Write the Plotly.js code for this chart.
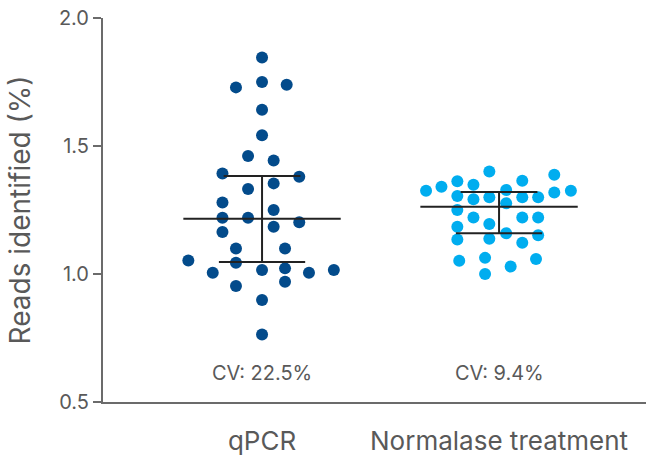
<!DOCTYPE html>
<html>
<head>
<meta charset="utf-8">
<script src="https://cdn.plot.ly/plotly-3.0.1.min.js"></script>
<style>html,body{margin:0;padding:0;background:#fff;}#chart{width:646px;height:458px;}</style>
</head>
<body>
<div id="chart"></div>
<script>
const categories = ["qPCR", "Normalase treatment"];
const cvLabels = ["CV: 22.5%", "CV: 9.4%"];

const qpcrValues = [1.846, 1.729, 1.750, 1.739, 1.642, 1.542, 1.461, 1.443, 1.393, 1.380, 1.332, 1.354,
  1.279, 1.220, 1.220, 1.250, 1.185, 1.202, 1.164, 1.100, 1.100, 1.053, 1.044, 1.005,
  1.016, 1.022, 1.005, 1.016, 0.953, 0.970, 0.898, 0.764];
const qpcrJitter = [0, -0.110, 0, 0.104, 0, 0, -0.059, 0.049, -0.167, 0.157, -0.059, 0.049,
  -0.167, -0.167, -0.059, 0.049, 0.049, 0.157, -0.167, -0.110, 0.097, -0.311, -0.110, -0.208,
  0, 0.097, 0.198, 0.303, -0.110, 0.097, 0, 0];

const normValues = [1.325, 1.341, 1.362, 1.349, 1.400, 1.328, 1.364, 1.388, 1.325,
  1.305, 1.292, 1.300, 1.276, 1.300, 1.300, 1.318,
  1.250, 1.221, 1.195, 1.221, 1.221,
  1.185, 1.159, 1.151, 1.135, 1.138, 1.122,
  1.052, 1.063, 1.059, 1.029, 1.000];
const normJitter = [-0.308, -0.243, -0.176, -0.108, -0.041, 0.030, 0.098, 0.233, 0.303,
  -0.176, -0.108, -0.041, 0.030, 0.098, 0.165, 0.233,
  -0.176, -0.108, -0.041, 0.098, 0.165,
  -0.176, 0.030, 0.165, -0.176, -0.041, 0.098,
  -0.168, -0.059, 0.156, 0.049, -0.059];

const groupMeans = [1.216, 1.263];
const groupUpper = [1.383, 1.320];
const groupLower = [1.047, 1.159];

const textColor = "#595959";
const axisColor = "#6b6b6b";
const dotColors = ["#034b8b", "#00adef"];

const traces = [];
[[qpcrValues, qpcrJitter], [normValues, normJitter]].forEach(([vals, jit], g) => {
  traces.push({
    type: "scatter", mode: "markers",
    x: vals.map((v, i) => g + jit[i]), y: vals,
    marker: {size: 12, color: dotColors[g], line: {width: 0}},
    hoverinfo: "y", showlegend: false
  });
});

// mean line + error bars
const lx = [], ly = [];
const meanHalf = 0.332, upCap = 0.162, lowCap = 0.182;
groupMeans.forEach((m, g) => {
  lx.push(g - meanHalf, g + meanHalf, null); ly.push(m, m, null);
  lx.push(g, g, null); ly.push(groupLower[g], groupUpper[g], null);
  lx.push(g - upCap, g + upCap, null); ly.push(groupUpper[g], groupUpper[g], null);
  lx.push(g - lowCap, g + lowCap, null); ly.push(groupLower[g], groupLower[g], null);
});
traces.push({type: "scatter", mode: "lines", x: lx, y: ly,
  line: {color: "#222222", width: 2}, hoverinfo: "skip", showlegend: false});

const layout = {
  width: 646, height: 458,
  margin: {l: 103, r: 0, t: 18, b: 56},
  paper_bgcolor: "#fff", plot_bgcolor: "#fff",
  font: {family: "Inter, 'Noto Sans', sans-serif", color: textColor},
  showlegend: false,
  xaxis: {
    range: [-0.671, 1.620], tickvals: [0, 1], ticktext: categories,
    showline: true, linecolor: axisColor, linewidth: 2,
    showgrid: false, zeroline: false, ticks: "",
    tickfont: {size: 26, color: textColor}, ticklabelstandoff: 15, fixedrange: true
  },
  yaxis: {
    range: [0.5, 2.0], tickvals: [0.5, 1.0, 1.5, 2.0], tickformat: ".1f",
    showline: true, linecolor: axisColor, linewidth: 2,
    showgrid: false, zeroline: false, ticks: "outside", ticklen: 8,
    tickcolor: axisColor, tickwidth: 2,
    tickfont: {size: 20, color: textColor},
    title: {text: "Reads identified (%)", font: {size: 28, color: textColor}, standoff: 20},
    fixedrange: true
  },
  annotations: cvLabels.map((t, g) => ({
    x: g, y: 0.612, xref: "x", yref: "y", text: t, showarrow: false,
    font: {size: 20, color: textColor}, xanchor: "center", yanchor: "middle"
  }))
};

Plotly.newPlot("chart", traces, layout, {displayModeBar: false, staticPlot: true});
</script>
</body>
</html>
